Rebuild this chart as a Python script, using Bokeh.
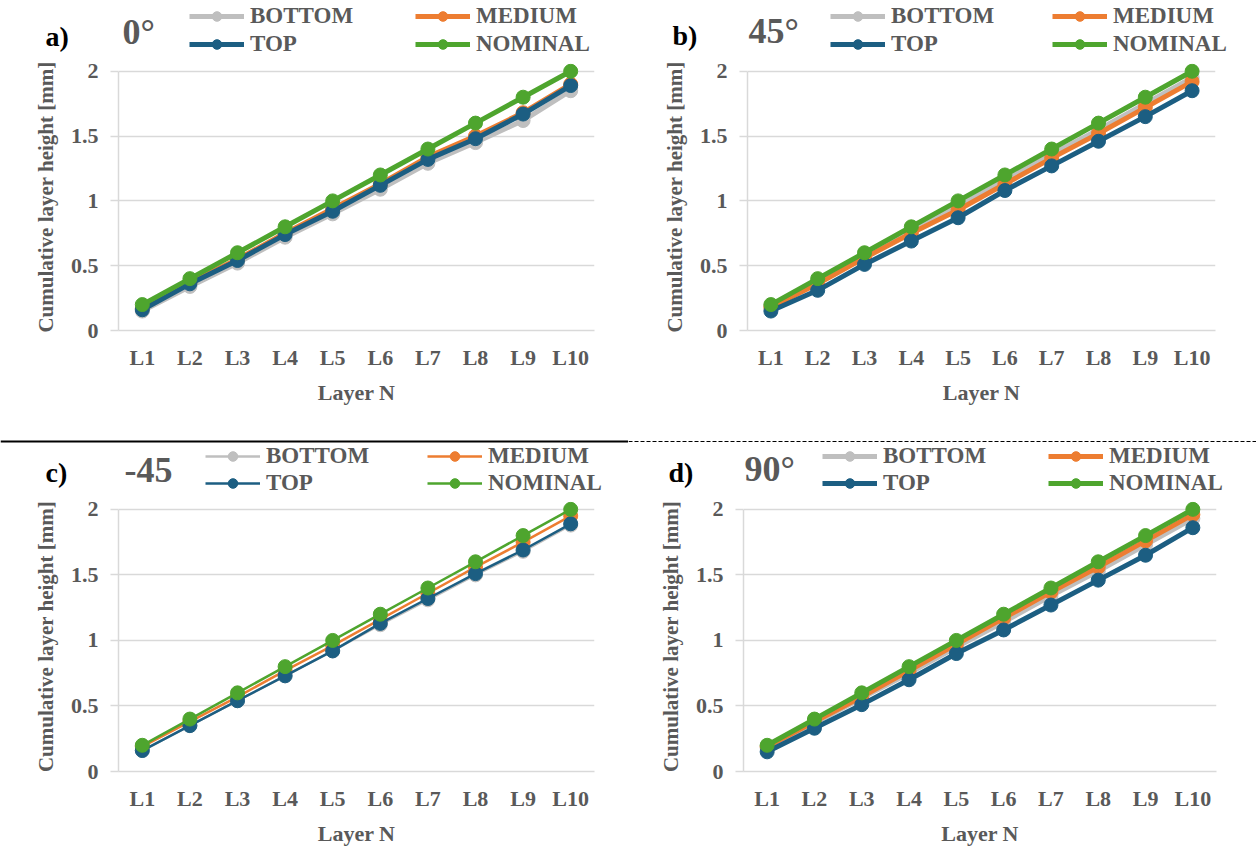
from bokeh.plotting import figure
from bokeh.models import (Legend, LegendItem, Label, Span, FactorRange, Range1d,
                          NumeralTickFormatter)
from bokeh.layouts import column, row
from bokeh.embed import file_html
from bokeh.resources import INLINE

# ---- data -------------------------------------------------------------
layers = ["L1", "L2", "L3", "L4", "L5", "L6", "L7", "L8", "L9", "L10"]
series_names = ["BOTTOM", "MEDIUM", "TOP", "NOMINAL"]
y_ticks = [0, 0.5, 1, 1.5, 2]

nominal = [0.2, 0.4, 0.6, 0.8, 1.0, 1.2, 1.4, 1.6, 1.8, 2.0]

# 0 deg
bottom_0 = [0.15, 0.34, 0.52, 0.72, 0.90, 1.09, 1.29, 1.45, 1.62, 1.85]
medium_0 = [0.17, 0.37, 0.55, 0.75, 0.94, 1.13, 1.34, 1.50, 1.68, 1.90]
top_0 = [0.16, 0.36, 0.54, 0.74, 0.92, 1.12, 1.32, 1.48, 1.67, 1.89]

# 45 deg
bottom_45 = [0.19, 0.38, 0.58, 0.77, 0.96, 1.16, 1.36, 1.55, 1.75, 1.95]
medium_45 = [0.18, 0.36, 0.56, 0.75, 0.93, 1.13, 1.33, 1.52, 1.72, 1.92]
top_45 = [0.15, 0.31, 0.51, 0.69, 0.87, 1.08, 1.27, 1.46, 1.65, 1.85]

# -45 deg
bottom_m45 = [0.16, 0.35, 0.54, 0.73, 0.92, 1.12, 1.31, 1.50, 1.68, 1.88]
medium_m45 = [0.19, 0.38, 0.57, 0.77, 0.96, 1.16, 1.36, 1.56, 1.75, 1.95]
top_m45 = [0.16, 0.35, 0.54, 0.73, 0.92, 1.13, 1.32, 1.51, 1.69, 1.89]

# 90 deg
bottom_90 = [0.18, 0.37, 0.56, 0.75, 0.95, 1.14, 1.34, 1.53, 1.73, 1.93]
medium_90 = [0.19, 0.38, 0.57, 0.77, 0.97, 1.17, 1.37, 1.56, 1.76, 1.96]
top_90 = [0.15, 0.33, 0.51, 0.70, 0.90, 1.08, 1.27, 1.46, 1.65, 1.86]

# ---- styling ----------------------------------------------------------
COLORS = {"BOTTOM": "#BFBFBF", "MEDIUM": "#ED7D31", "TOP": "#1C5E82", "NOMINAL": "#4EA52E"}
FONT = "Liberation Serif"
TEXT_GRAY = "#595959"
GRID = "#D9D9D9"
W = 628


def bare_figure(height, xr, yr, **kw):
    p = figure(width=W, height=height, x_range=xr, y_range=yr,
               output_backend="svg", toolbar_location=None, **kw)
    p.frame_align = False
    p.outline_line_color = None
    p.background_fill_color = "white"
    p.border_fill_color = "white"
    return p


def make_header(tag, angle_text, series, geo, lw, divider=None):
    """Strip above a chart holding the panel tag, the angle and the legend.

    The strip looks at an empty value window (below zero), so the series
    added here only serve as legend samples."""
    h = geo["head_h"]
    p = bare_figure(h, FactorRange(*layers), Range1d(-1, 0),
                    x_axis_type=None, y_axis_type=None,
                    min_border_left=0, min_border_right=0,
                    min_border_top=0, min_border_bottom=0)
    p.grid.visible = False

    items = {}
    for name, values in zip(series_names, series):
        c = COLORS[name]
        r_line = p.line(layers, values, line_width=lw, line_color=c)
        r_pts = p.scatter(layers, values, size=14, fill_color=c, line_color=c)
        items[name] = LegendItem(label=name, renderers=[r_line, r_pts])

    for names, cy in ((["BOTTOM", "MEDIUM"], geo["leg_y1"]), (["TOP", "NOMINAL"], geo["leg_y2"])):
        lg = Legend(items=[items[n] for n in names], orientation="horizontal",
                    location=(geo["leg_x"], h - cy - 12),
                    padding=0, margin=0, spacing=0,
                    glyph_width=55, glyph_height=24, label_height=24,
                    label_standoff=6, label_width=geo["leg_pitch"] - 61,
                    label_text_font=FONT, label_text_font_style="bold",
                    label_text_font_size="23px", label_text_color=TEXT_GRAY,
                    border_line_color=None, background_fill_alpha=0)
        p.add_layout(lg)

    p.add_layout(Label(x=geo["tag_x"], y=h - geo["tag_y"],
                       x_units="screen", y_units="screen", text=tag,
                       text_font=FONT, text_font_style="bold", text_font_size="28px",
                       text_color="black", text_baseline="middle"))
    p.add_layout(Label(x=geo["ang_x"], y=h - geo["ang_y"],
                       x_units="screen", y_units="screen", text=angle_text,
                       text_font=FONT, text_font_style="bold", text_font_size="36px",
                       text_color=TEXT_GRAY, text_baseline="middle"))
    if divider is not None:
        p.add_layout(Span(location=-3 / h, dimension="width", line_color="black",
                          **divider))
    return p


def make_chart(series, geo, lw):
    p = bare_figure(geo["h"], FactorRange(*layers), Range1d(0, geo["y_end"]),
                    min_border_left=geo["left"], min_border_right=geo["right"],
                    min_border_top=geo["top"], min_border_bottom=geo["bottom"])

    p.xgrid.grid_line_color = None
    p.ygrid.grid_line_color = GRID
    p.ygrid.grid_line_width = 1.5

    p.yaxis.ticker = y_ticks
    p.yaxis.formatter = NumeralTickFormatter(format="0.[0]")
    p.yaxis.bounds = (0, 2)
    for ax in (p.xaxis[0], p.yaxis[0]):
        ax.axis_line_color = GRID
        ax.axis_line_width = 1.5
        ax.major_tick_line_color = GRID
        ax.major_tick_line_width = 1.5
        ax.minor_tick_line_color = None
        ax.major_label_text_font = FONT
        ax.major_label_text_font_style = "bold"
        ax.major_label_text_font_size = "22px"
        ax.major_label_text_color = TEXT_GRAY
        ax.axis_label_text_font = FONT
        ax.axis_label_text_font_style = "bold"
        ax.axis_label_text_color = TEXT_GRAY
    p.xaxis.axis_label_text_font_size = "22px"
    p.yaxis.axis_label_text_font_size = "21px"
    p.xaxis.major_tick_out = 0
    p.xaxis.major_tick_in = 0
    p.xaxis.major_label_standoff = 14
    p.xaxis.axis_label = "Layer N"
    p.xaxis.axis_label_standoff = 7
    p.yaxis.major_tick_out = 8
    p.yaxis.major_tick_in = 0
    p.yaxis.major_label_standoff = 12
    p.yaxis.axis_label = "Cumulative layer height [mm]"
    p.yaxis.axis_label_standoff = 10

    for name, values in zip(series_names, series):
        c = COLORS[name]
        p.line(layers, values, line_width=lw, line_color=c)
        p.scatter(layers, values, size=14, fill_color=c, line_color=c)
    return p


geo_a = dict(head_h=58, h=380, top=5, y_end=2.06, left=118, right=34, bottom=108,
             leg_x=189, leg_pitch=226, leg_y1=17, leg_y2=45,
             tag_x=45, tag_y=36, ang_x=122, ang_y=31)
geo_b = dict(head_h=58, h=380, top=5, y_end=2.06, left=119, right=41, bottom=108,
             leg_x=202, leg_pitch=222, leg_y1=17, leg_y2=45,
             tag_x=44, tag_y=35, ang_x=120, ang_y=30)
geo_c = dict(head_h=58, h=352, top=5, y_end=2.06, left=118, right=34, bottom=75,
             leg_x=205, leg_pitch=222, leg_y1=19, leg_y2=46,
             tag_x=45, tag_y=34, ang_x=124, ang_y=31)
geo_d = dict(head_h=58, h=352, top=5, y_end=2.06, left=115, right=40, bottom=77,
             leg_x=194, leg_pitch=226, leg_y1=19, leg_y2=46,
             tag_x=40, tag_y=34, ang_x=116, ang_y=30)

panels = [
    ("a)", "0°", [bottom_0, medium_0, top_0, nominal], geo_a, 5, None),
    ("b)", "45°", [bottom_45, medium_45, top_45, nominal], geo_b, 5, None),
    ("c)", "-45", [bottom_m45, medium_m45, top_m45, nominal], geo_c, 2.5,
     dict(line_width=2)),
    ("d)", "90°", [bottom_90, medium_90, top_90, nominal], geo_d, 5,
     dict(line_width=1, line_dash="4 2")),
]

cols = []
for tag, ang, series, geo, lw, div in panels:
    cols.append(column(make_header(tag, ang, series, geo, lw, div),
                       make_chart(series, geo, lw), spacing=0))

layout = column(row(cols[0], cols[1], spacing=0), row(cols[2], cols[3], spacing=0),
                spacing=0)

open("out.html", "w").write(file_html(layout, INLINE))
